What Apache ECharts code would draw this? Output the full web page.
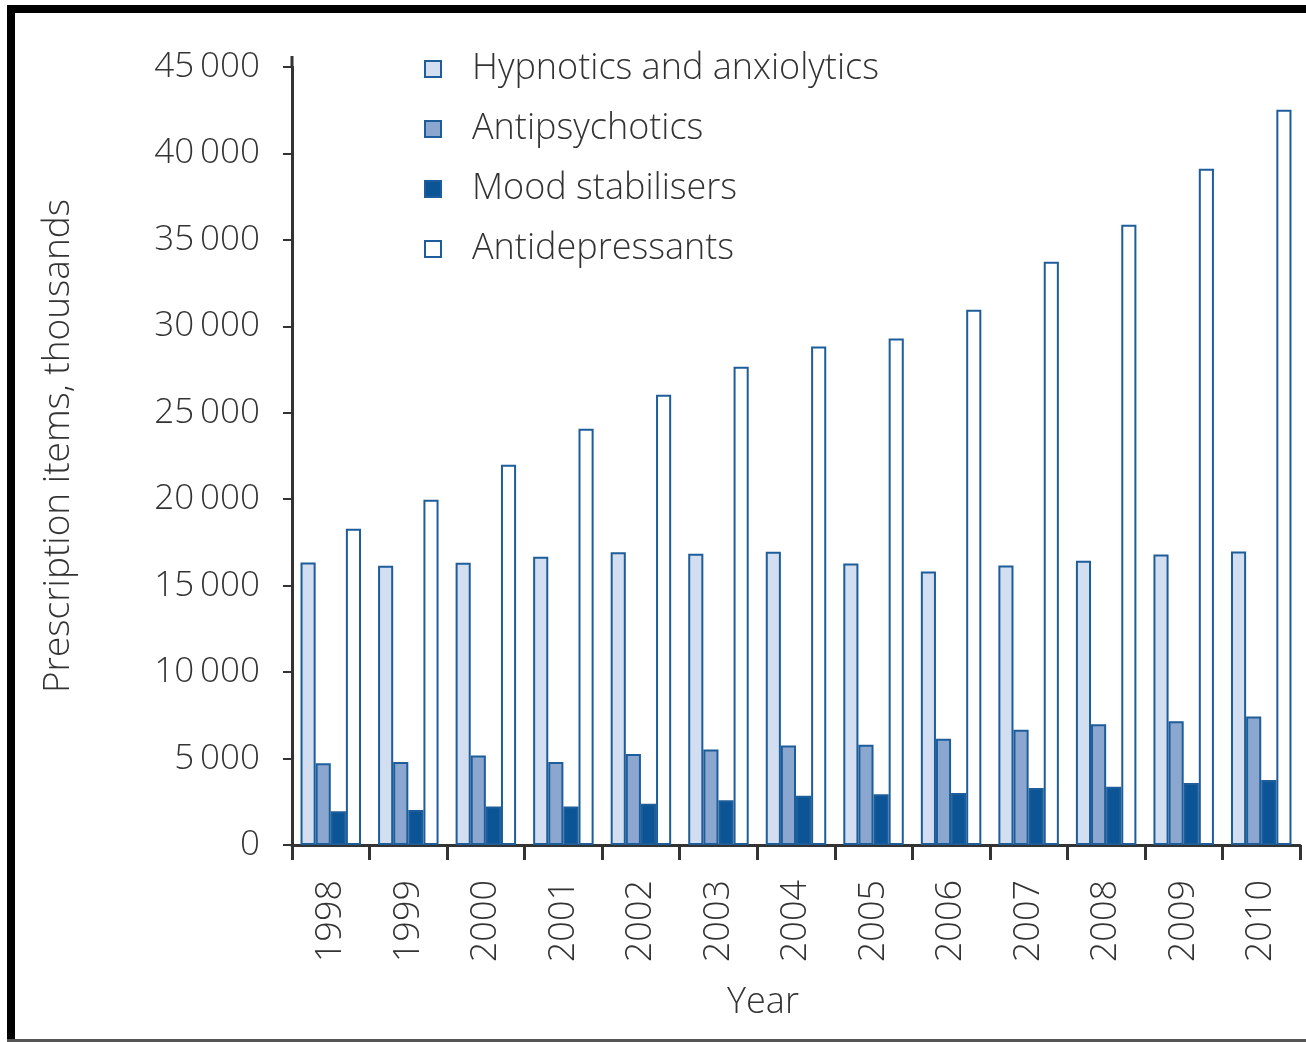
<!DOCTYPE html>
<html>
<head>
<meta charset="utf-8">
<script src="https://cdn.jsdelivr.net/npm/echarts@6/dist/echarts.min.js"></script>
<style>
html,body{margin:0;padding:0;background:#fff;}
#chart{width:1306px;height:1042px;}
</style>
</head>
<body>
<div id="chart"></div>
<script>
const years = ['1998','1999','2000','2001','2002','2003','2004','2005','2006','2007','2008','2009','2010'];
const hypnotics = [16340,16150,16320,16670,16930,16840,16960,16280,15820,16160,16440,16800,16970];
const antipsychotics = [4730,4800,5170,4800,5270,5520,5750,5800,6150,6670,6980,7160,7430];
const moodStabilisers = [1950,2030,2220,2220,2390,2590,2850,2930,3010,3300,3370,3590,3760];
const antidepressants = [18290,19970,21990,24070,26040,27660,28840,29300,30960,33740,35880,39120,42530];

const FONT = '"Open Sans"';
const border = '#1d5d9a';
const chart = echarts.init(document.getElementById('chart'));

function fmt(v){
  const s = String(v);
  if (s.length > 3) return s.slice(0, s.length-3) + '\u2009' + s.slice(s.length-3);
  return s;
}

function mk(name, data, fill){
  return {
    name: name, type: 'bar', data: data,
    barGap: '0%', barCategoryGap: '22%',
    itemStyle: {color: fill, borderColor: border, borderWidth: 2},
    emphasis: {disabled: true}
  };
}

chart.setOption({
  animation: false,
  backgroundColor: '#fff',
  textStyle: {fontFamily: FONT},
  grid: {left: 292, right: 6, top: 67, bottom: 197, containLabel: false},
  legend: {
    orient: 'vertical', left: 424, top: 49, padding: 0,
    itemWidth: 16, itemHeight: 16, itemGap: 20,
    icon: 'rect',
    textStyle: {fontFamily: FONT, fontSize: 36, fontWeight: 300, color: '#333', lineHeight: 40, padding: [0,0,0,26]},
    data: ['Hypnotics and anxiolytics','Antipsychotics','Mood stabilisers','Antidepressants']
  },
  xAxis: {
    type: 'category', data: years,
    boundaryGap: true,
    name: 'Year', nameLocation: 'middle', nameGap: 140,
    nameTextStyle: {fontFamily: FONT, fontSize: 36, fontWeight: 300, color: '#333', padding: [0,66,0,0]},
    axisLine: {lineStyle: {color: '#333', width: 3}},
    axisTick: {show: true, length: 15, lineStyle: {color: '#333', width: 3}},
    axisLabel: {rotate: 90, margin: 35, fontFamily: FONT, fontSize: 36, fontWeight: 300, color: '#333'},
    splitLine: {show: false}
  },
  yAxis: {
    type: 'value', min: 0, max: 45000, interval: 5000,
    name: 'Prescription items, thousands', nameLocation: 'middle', nameGap: 215,
    nameRotate: 90,
    nameTextStyle: {fontFamily: FONT, fontSize: 37, fontWeight: 300, color: '#333', padding: [0,0,0,20]},
    axisLine: {show: true, lineStyle: {color: '#333', width: 3}},
    axisTick: {show: true, length: 9, lineStyle: {color: '#333', width: 2}},
    axisLabel: {margin: 32, fontFamily: FONT, fontSize: 35, fontWeight: 300, color: '#333',
      formatter: function(v){ return fmt(v); }},
    splitLine: {show: false}
  },
  graphic: [
    {type: 'rect', shape: {x: 7, y: 5, width: 1310, height: 8}, style: {fill: '#000'}, silent: true},
    {type: 'rect', shape: {x: 7, y: 5, width: 8, height: 1040}, style: {fill: '#000'}, silent: true},
    {type: 'rect', shape: {x: 7, y: 1039, width: 1310, height: 3}, style: {fill: '#555'}, silent: true},
    {type: 'line', shape: {x1: 292, y1: 56, x2: 292, y2: 68}, style: {stroke: '#333', lineWidth: 3}, silent: true}
  ],
  series: [
    mk('Hypnotics and anxiolytics', hypnotics, '#d3def1'),
    mk('Antipsychotics', antipsychotics, '#8ba7cf'),
    mk('Mood stabilisers', moodStabilisers, '#0b5596'),
    mk('Antidepressants', antidepressants, '#ffffff')
  ]
});
</script>
</body>
</html>
